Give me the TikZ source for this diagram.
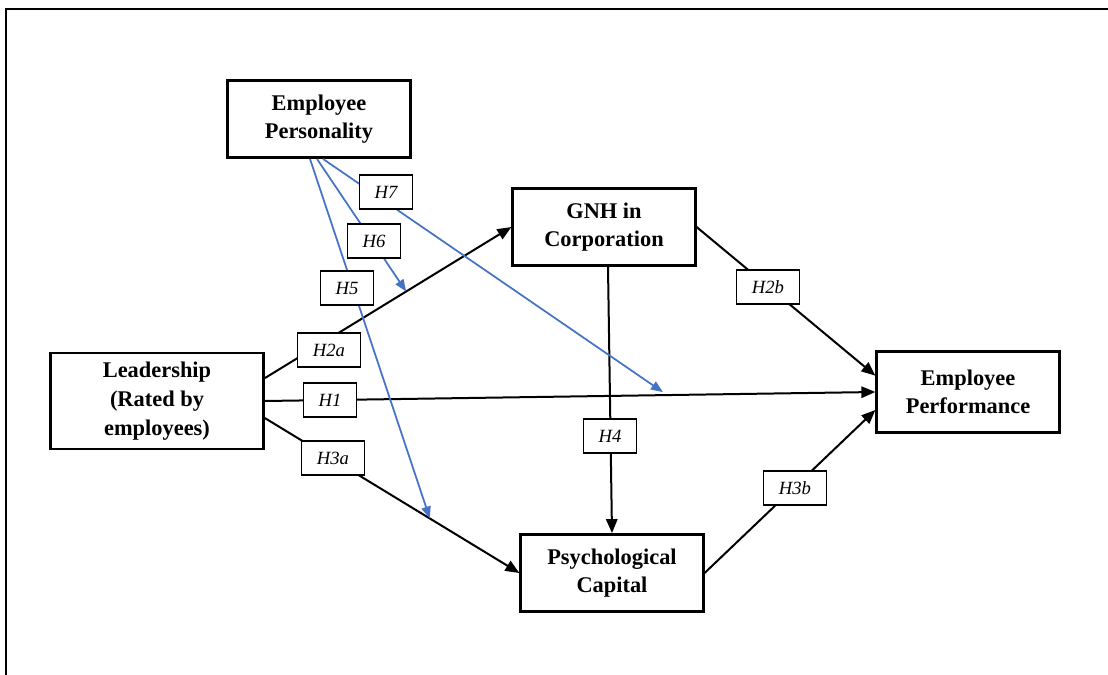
\documentclass[tikz,border=0pt]{standalone}
\usepackage{fontspec}
\setmainfont{Liberation Serif}
\usetikzlibrary{calc,arrows.meta}
\definecolor{hypblue}{RGB}{68,114,196}

\begin{document}
\begin{tikzpicture}[x=0.75pt,y=-0.75pt,
  box/.style={draw,line width=1.9pt,fill=white,align=center,minimum width=137pt,minimum height=58pt,font=\fontsize{16.8}{21.5}\selectfont\bfseries},
  hyp/.style={draw,line width=1pt,fill=white,inner xsep=11.5pt,inner ysep=0pt,minimum height=25.5pt,font=\fontsize{14}{16}\selectfont\itshape},
  link/.style={line width=1.5pt,-{Triangle[length=10.5pt,width=8.5pt]}},
  moder/.style={hypblue,line width=1.3pt,-{Triangle[length=9pt,width=7pt]}}]
\useasboundingbox (0,0) rectangle (1108,675);
\draw[line width=1.1pt] (6,675) -- (6,9) -- (1108,9);

\node [box] (emp) at (319,119) {Employee\\Personality};
\node [box] (gnh) at (604,227) {GNH in\\Corporation};
\node [box,minimum width=160pt,minimum height=72pt] (lead) at (157,401) {Leadership\\(Rated by\\employees)};
\node [box,minimum height=61pt] (perf) at (968,392) {Employee\\Performance};
\node [box] (psy) at (612,573) {Psychological\\Capital};

\draw [link] (lead.12) -- coordinate[pos=0.573] (t6) (gnh.west);
\draw [link] (lead.east) -- coordinate[pos=0.652] (t7) (perf.west);
\draw [link] (lead.351) -- coordinate[pos=0.648] (t5) (psy.west);
\draw [link] (gnh.east) -- (perf.170);
\draw [link] (psy.east) -- (perf.191);
\draw [link] ($(gnh.south)+(4,0)$) -- (psy.north);

\draw [moder] ($(emp.south)+(-9,0)$) -- (t5);
\draw [moder] ($(emp.south)+(-2,0)$) -- (t6);
\draw [moder] ($(emp.south)+(4,0)$) -- ($(t7)+(0,-3)$);

\node [hyp] (h7) at (386,192) {H7};
\node [hyp] (h6) at (374,241) {H6};
\node [hyp] (h5) at (347,288) {H5};
\node [hyp] (h2a) at (329,350) {H2a};
\node [hyp] (h1) at (330,400) {H1};
\node [hyp] (h3a) at (333,458) {H3a};
\node [hyp] (h4) at (610,436) {H4};
\node [hyp] (h2b) at (768,287) {H2b};
\node [hyp] (h3b) at (795,488) {H3b};

\end{tikzpicture}
\end{document}
